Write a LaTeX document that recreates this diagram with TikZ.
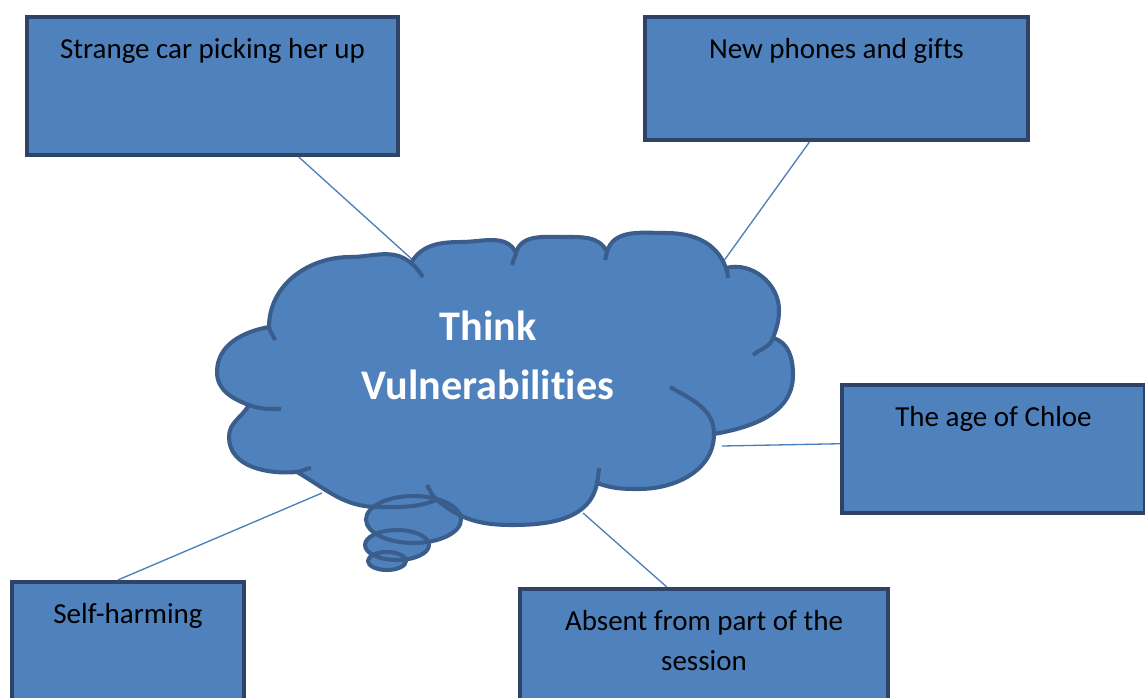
\documentclass[tikz,border=0pt]{standalone}
\usepackage{fontspec}
\setmainfont{Carlito}[Ligatures=NoCommon]
\usetikzlibrary{calc,positioning}
\definecolor{shapeblue}{HTML}{4F81BD}
\definecolor{boxedge}{HTML}{2E4367}
\definecolor{cloudedge}{HTML}{3A5D8C}
\definecolor{linkblue}{HTML}{4A7EBB}

\begin{document}
\begin{tikzpicture}[x=0.02cm, y=0.02cm,
    idea/.style={rectangle, draw=boxedge, fill=shapeblue, line width=2.3pt},
    ideatext/.style={anchor=north, yshift=-0.47cm, inner sep=0pt, align=center,
      font=\fontsize{16.5}{22.7}\selectfont},
    puff/.style={draw=cloudedge, line width=2.3pt},
    link/.style={draw=linkblue, line width=0.75pt}]
    \useasboundingbox (0,0) rectangle (1145,-697);

    % boxes round the cloud
    \node[idea, minimum width=7.42cm, minimum height=2.76cm,
      label={[ideatext]north:Strange car picking her up}] (car) at (212.5,-86) {};
    \node[idea, minimum width=7.66cm, minimum height=2.46cm,
      label={[ideatext]north:New phones and gifts}] (phones) at (836.5,-78.5) {};
    \node[idea, minimum width=6.06cm, minimum height=2.56cm,
      label={[ideatext]north:The age of Chloe}] (age) at (993.5,-449) {};
    \node[idea, minimum width=4.64cm, minimum height=2.76cm,
      label={[ideatext]north:Self-harming}] (harm) at (128,-651) {};
    \node[idea, minimum width=7.36cm, minimum height=2.6cm,
      label={[ideatext]north:{Absent from part of the\\session}}] (absent) at (704,-654) {};

    % where the links touch the cloud
    \coordinate (k1) at (415,-262);
    \coordinate (k2) at (723,-262);
    \coordinate (k3) at (722,-446);
    \coordinate (k4) at (322,-493);
    \coordinate (k5) at (583,-513);

    \path[link] ($(car.south west)!.73!(car.south east)$) -- (k1)
                ($(phones.south west)!.43!(phones.south east)$) -- (k2)
                (k3) -- ($(age.north west)!.46!(age.south west)$)
                (k4) -- ($(harm.north west)!.457!(harm.north east)$)
                (k5) -- ($(absent.north west)!.40!(absent.north east)$);

    % thought bubbles
    \fill[shapeblue] (413.5,-519.5) ellipse [x radius=47.5, y radius=23.5]
                     (397,-545) ellipse [x radius=32, y radius=15]
                     (387,-561) ellipse [x radius=19, y radius=9];

    % the cloud
    \path[puff, fill=shapeblue] (269,-327)
      to[out=90,in=180] (350,-257) to[out=0,in=140] (411,-263)
      to[out=60,in=180] (461,-242) to[out=0,in=115] (516,-253)
      to[out=75,in=180] (564,-237) to[out=0,in=115] (607,-252)
      to[out=75,in=180] (666,-233) to[out=0,in=110] (726,-268)
      to[out=15,in=90] (779,-310) to[out=-90,in=70] (773,-338)
      to[out=-15,in=90] (793,-375) to[out=-90,in=10] (714,-434)
      to[out=-90,in=0] (639,-489) to[out=180,in=-20] (597,-483)
      to[out=-100,in=0] (512,-525) to[out=180,in=-40] (437,-500)
      to[out=-160,in=0] (378,-507) to[out=180,in=-30] (297,-472)
      to[out=185,in=-90] (229,-437) to[out=90,in=-120] (249,-405)
      to[out=160,in=-90] (217,-372) to[out=90,in=190] (269,-327) -- cycle;
    \path[puff] (269,-327) to[out=-80,in=110] (275,-340)
                (411,-263) to[out=-40,in=125] (423,-277)
                (516,-253) to[out=-105,in=75] (512,-265)
                (607,-252) to[out=-105,in=80] (605,-260)
                (726,-268) to[out=-70,in=95] (728,-278)
                (773,-338) to[out=-110,in=40] (753,-355)
                (714,-434) to[out=90,in=-30] (670,-387)
                (597,-483) to[out=80,in=-95] (599,-468)
                (437,-500) to[out=140,in=-60] (427,-485)
                (297,-472) to[out=5,in=185] (311,-468)
                (249,-405) to[out=-20,in=180] (281,-409);
    \path[puff] (413.5,-519.5) ellipse [x radius=47.5, y radius=23.5]
                (397,-545) ellipse [x radius=32, y radius=15]
                (387,-561) ellipse [x radius=19, y radius=9];

    \node[anchor=north, inner sep=0pt, align=center, text=white,
      font=\fontsize{24}{33.4}\selectfont\bfseries] (title) at (488,-311)
      {Think\\Vulnerabilities};
\end{tikzpicture}
\end{document}
